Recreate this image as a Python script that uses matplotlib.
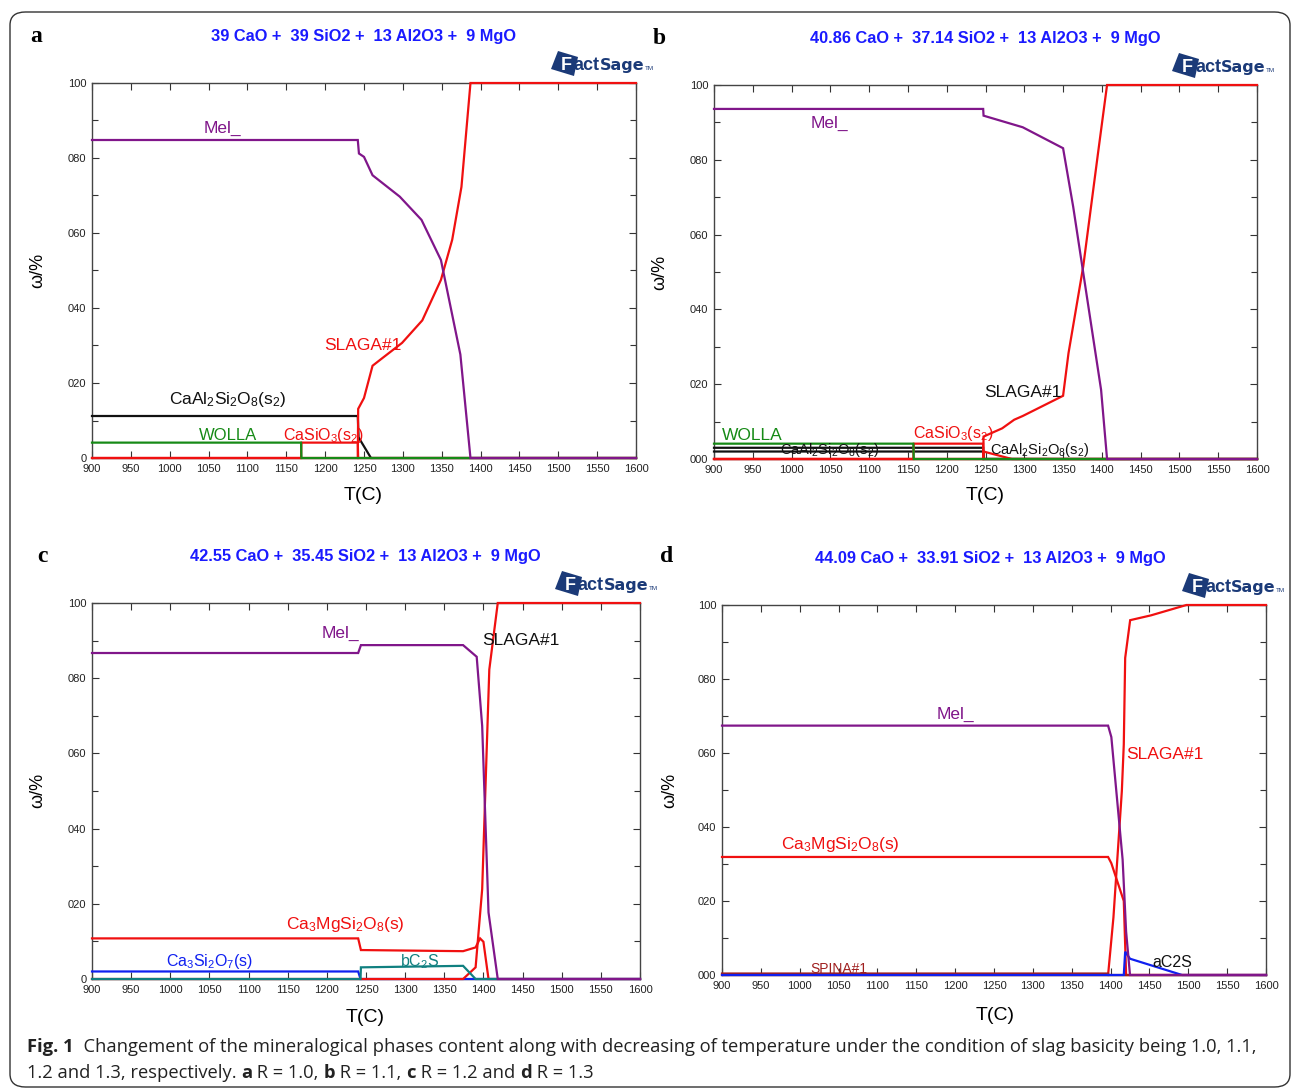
import matplotlib
matplotlib.use("Agg")
import matplotlib.pyplot as plt
from matplotlib.patches import FancyBboxPatch, Polygon
from matplotlib.ticker import FixedLocator, FixedFormatter, MultipleLocator

# ---------------- data ----------------
x_ticks = [900, 950, 1000, 1050, 1100, 1150, 1200, 1250, 1300, 1350, 1400, 1450, 1500, 1550, 1600]
y_ticks = [0, 20, 40, 60, 80, 100]
y_labels_ac = ["0", "020", "040", "060", "080", "100"]
y_labels_bd = ["000", "020", "040", "060", "080", "100"]

titles = ["39 CaO +  39 SiO2 +  13 Al2O3 +  9 MgO",
          "40.86 CaO +  37.14 SiO2 +  13 Al2O3 +  9 MgO",
          "42.55 CaO +  35.45 SiO2 +  13 Al2O3 +  9 MgO",
          "44.09 CaO +  33.91 SiO2 +  13 Al2O3 +  9 MgO"]
letters = ["a", "b", "c", "d"]

# panel a
a_T_anor = [900, 1242, 1243, 1259, 1600]
a_anor = [11.2, 11.2, 5.5, 0, 0]
a_T_slag = [900, 1242, 1242.5, 1250, 1261, 1274, 1299, 1325, 1349, 1363.5, 1375.4, 1387, 1600]
a_slag = [0, 0, 13.1, 16.0, 24.6, 26.7, 30.7, 36.7, 47.5, 58.2, 72.3, 100, 100]
a_T_casio3 = [900, 1169, 1169.5, 1242, 1242.5, 1600]
a_casio3 = [0, 0, 4.1, 4.1, 0, 0]
a_T_woll = [900, 1169, 1169.5, 1600]
a_woll = [4.1, 4.1, 0, 0]
a_T_mel = [900, 1242, 1243.5, 1250, 1261, 1296, 1324, 1349, 1374, 1387, 1600]
a_mel = [84.8, 84.8, 81.2, 80.3, 75.4, 69.7, 63.5, 52.8, 27.6, 0, 0]

# panel b
b_T_anor1 = [900, 1247, 1247.5, 1600]
b_anor1 = [3.0, 3.0, 0, 0]
b_T_anor2 = [900, 1247, 1247.5, 1600]
b_anor2 = [2.0, 2.0, 0, 0]
b_T_anor3 = [900, 1247, 1247.5, 1284, 1600]
b_anor3 = [0, 0, 2.0, 0, 0]
b_T_slag = [900, 1247, 1247.5, 1271.5, 1287, 1298, 1350, 1357, 1376, 1395, 1406.7, 1600]
b_slag = [0, 0, 6.0, 8.2, 10.5, 11.5, 16.9, 28.3, 51.5, 81.7, 100, 100]
b_T_casio3 = [900, 1157, 1157.5, 1247, 1247.5, 1600]
b_casio3 = [0, 0, 4.1, 4.1, 0, 0]
b_T_woll = [900, 1157, 1157.5, 1600]
b_woll = [4.1, 4.1, 0, 0]
b_T_mel = [900, 1247, 1247.5, 1298, 1350, 1363, 1399, 1406.7, 1600]
b_mel = [93.6, 93.6, 91.8, 88.7, 83.1, 67.5, 18.5, 0, 0]

# panel c
c_T_c3s2 = [900, 1240, 1243, 1600]
c_c3s2 = [2.0, 2.0, 0, 0]
c_T_c3ms2 = [900, 1240, 1243.5, 1374, 1390, 1395.7, 1400, 1406.5, 1600]
c_c3ms2 = [10.8, 10.8, 7.7, 7.4, 8.4, 10.8, 9.9, 0, 0]
c_T_slag = [900, 1374, 1390, 1398.4, 1407.5, 1418.3, 1600]
c_slag = [0, 0, 3.1, 23.9, 82.3, 100, 100]
c_T_bc2s = [900, 1243, 1243.5, 1374, 1390, 1600]
c_bc2s = [0, 0, 3.1, 3.5, 0, 0]
c_T_mel = [900, 1240, 1243.5, 1374, 1391.4, 1398.4, 1406.5, 1418.3, 1600]
c_mel = [86.7, 86.7, 88.8, 88.8, 85.7, 67.3, 17.7, 0, 0]

# panel d
d_T_c3ms2 = [900, 1396.8, 1401, 1417, 1420, 1600]
d_c3ms2 = [31.9, 31.9, 30.2, 20.0, 0, 0]
d_T_slag = [900, 1396.8, 1403.7, 1414.5, 1417, 1418.8, 1425.2, 1452, 1497.6, 1600]
d_slag = [0, 0, 15.6, 49.7, 62.3, 85.7, 95.9, 97.2, 100, 100]
d_T_spina = [900, 1396.8, 1397.3, 1600]
d_spina = [0.4, 0.4, 0, 0]
d_T_ac2s = [900, 1417, 1418.8, 1425, 1492, 1600]
d_ac2s = [0, 0, 6.3, 4.4, 0, 0]
d_T_mel = [900, 1396.8, 1401, 1415.5, 1420, 1425, 1600]
d_mel = [67.4, 67.4, 64.3, 31.2, 11.7, 0, 0]

# ---------------- style ----------------
PURPLE = "#80168a"
RED = "#f01010"
GREEN = "#168a16"
BLACK = "#111111"
BLUE = "#1020f0"
TEAL = "#108080"
BROWN = "#a02020"
NAVY = "#1b3a78"
LW = 1.6

W, H = 1292, 1090
plt.rcParams['font.family'] = ['Liberation Sans', 'DejaVu Sans']
plt.rcParams['mathtext.fontset'] = 'custom'
plt.rcParams['mathtext.rm'] = 'Liberation Sans'
plt.rcParams['mathtext.it'] = 'Liberation Sans:italic'
plt.rcParams['mathtext.bf'] = 'Liberation Sans:bold'
fig = plt.figure(figsize=(W / 100, H / 100), dpi=100)
renderer = fig.canvas.get_renderer()


def fx(x):
    return x / W


def fy(y):
    return 1 - y / H


def make_axes(left, right, top, bottom, ylabels):
    ax = fig.add_axes([fx(left), fy(bottom), (right - left) / W, (bottom - top) / H])
    ax.set_xlim(900, 1600)
    ax.set_ylim(0, 100)
    ax.xaxis.set_major_locator(FixedLocator(x_ticks))
    ax.xaxis.set_major_formatter(FixedFormatter([str(t) for t in x_ticks]))
    ax.yaxis.set_major_locator(FixedLocator(y_ticks))
    ax.yaxis.set_major_formatter(FixedFormatter(ylabels))
    ax.yaxis.set_minor_locator(MultipleLocator(10))
    ax.tick_params(which='both', direction='in', top=True, right=True,
                   labelsize=8, colors='#333333', labelcolor='#222222', width=0.8)
    ax.tick_params(which='major', length=5, pad=4)
    ax.tick_params(which='minor', length=4)
    for s in ax.spines.values():
        s.set_color('#444444')
        s.set_linewidth(1.0)
    return ax


def draw(ax, T, v, c):
    ax.plot(T, v, color=c, lw=LW, zorder=3, clip_on=False, solid_joinstyle='miter')


def chain(pieces, x0, y0):
    """Draw text pieces one after another; each piece: (text, kwargs)."""
    x = fx(x0)
    for txt, kw in pieces:
        t = fig.text(x, fy(y0), txt, ha='left', va='baseline', **kw)
        bb = t.get_window_extent(renderer=renderer)
        x += bb.width / W


def logo(x0, y0):
    # tilted navy shape with a white F, then "actSage"
    pts = [(x0 + 7, y0 - 13), (x0 + 27, y0 - 7), (x0 + 23, y0 + 12), (x0, y0 + 5)]
    fig.patches.append(Polygon([(fx(px), fy(py)) for px, py in pts], closed=True,
                               transform=fig.transFigure, facecolor=NAVY, edgecolor='none'))
    fig.text(fx(x0 + 15), fy(y0 + 6), "F", color='white', fontsize=13, fontweight='bold',
             ha='center', va='baseline')
    chain([("act", dict(color=NAVY, fontsize=13, fontweight='bold')),
           ("Sage", dict(color=NAVY, fontsize=11.5, fontweight='bold', family='DejaVu Sans Condensed')),
           ("TM", dict(color=NAVY, fontsize=4.5))], x0 + 23, y0 + 6)


def deco(i, title_xy, letter_xy, logo_xy, xlab_xy, ylab_xy):
    fig.text(fx(title_xy[0]), fy(title_xy[1]), titles[i], color='#1a1aff',
             fontsize=11.8, fontweight='bold', ha='center', va='center')
    fig.text(fx(letter_xy[0]), fy(letter_xy[1]), letters[i], family='Liberation Serif',
             fontsize=17, fontweight='bold', ha='center', va='center')
    logo(*logo_xy)
    fig.text(fx(xlab_xy[0]), fy(xlab_xy[1]), "T(C)", fontsize=14, ha='center', va='center')
    fig.text(fx(ylab_xy[0]), fy(ylab_xy[1]), "ω/%", fontsize=13, ha='center', va='center',
             rotation=90)


# ---------- panel a ----------
ax = make_axes(92, 636, 83, 458, y_labels_ac)
draw(ax, a_T_anor, a_anor, BLACK)
draw(ax, a_T_slag, a_slag, RED)
draw(ax, a_T_casio3, a_casio3, RED)
draw(ax, a_T_woll, a_woll, GREEN)
draw(ax, a_T_mel, a_mel, PURPLE)
ax.text(1068, 88.0, "Mel_", color=PURPLE, fontsize=12.5, ha='center', va='center')
ax.text(1249, 30.1, "SLAGA#1", color=RED, fontsize=12.5, ha='center', va='center')
ax.text(1075, 15.5, r"CaAl$_2$Si$_2$O$_8$(s$_2$)", color=BLACK, fontsize=12.5, ha='center', va='center')
ax.text(1075, 5.9, "WOLLA", color=GREEN, fontsize=12, ha='center', va='center')
ax.text(1197, 5.9, r"CaSiO$_3$(s$_2$)", color=RED, fontsize=11.5, ha='center', va='center')
deco(0, (364, 36), (36, 37), (551, 64), (363, 495), (38, 270))

# ---------- panel b ----------
ax = make_axes(714, 1257, 85, 459, y_labels_bd)
draw(ax, b_T_anor1, b_anor1, BLACK)
draw(ax, b_T_anor2, b_anor2, BLACK)
draw(ax, b_T_anor3, b_anor3, RED)
draw(ax, b_T_slag, b_slag, RED)
draw(ax, b_T_casio3, b_casio3, RED)
draw(ax, b_T_woll, b_woll, GREEN)
draw(ax, b_T_mel, b_mel, PURPLE)
ax.text(1049, 89.8, "Mel_", color=PURPLE, fontsize=12.5, ha='center', va='center')
ax.text(1298, 17.9, "SLAGA#1", color=BLACK, fontsize=12.5, ha='center', va='center')
ax.text(950, 6.2, "WOLLA", color=GREEN, fontsize=12.5, ha='center', va='center')
ax.text(1208, 6.9, r"CaSiO$_3$(s$_2$)", color=RED, fontsize=11.5, ha='center', va='center')
ax.text(1049, 2.3, r"CaAl$_2$Si$_2$O$_8$(s$_2$)", color=BLACK, fontsize=10.5, ha='center', va='center')
ax.text(1320, 2.5, r"CaAl$_2$Si$_2$O$_8$(s$_2$)", color=BLACK, fontsize=10.5, ha='center', va='center')
deco(1, (985, 38), (659, 38), (1172, 66), (985, 496), (660, 272))

# ---------- panel c ----------
ax = make_axes(92, 640, 603, 979, y_labels_ac)
draw(ax, c_T_c3s2, c_c3s2, BLUE)
draw(ax, c_T_slag, c_slag, RED)
draw(ax, c_T_c3ms2, c_c3ms2, RED)
draw(ax, c_T_bc2s, c_bc2s, TEAL)
draw(ax, c_T_mel, c_mel, PURPLE)
ax.text(1217, 92.0, "Mel_", color=PURPLE, fontsize=12.5, ha='center', va='center')
ax.text(1448, 89.9, "SLAGA#1", color=BLACK, fontsize=12.5, ha='center', va='center')
ax.text(1223, 14.6, r"Ca$_3$MgSi$_2$O$_8$(s)", color=RED, fontsize=12.5, ha='center', va='center')
ax.text(1050, 4.7, r"Ca$_3$Si$_2$O$_7$(s)", color=BLUE, fontsize=11.5, ha='center', va='center')
ax.text(1319, 4.7, r"bC$_2$S", color=TEAL, fontsize=11.5, ha='center', va='center')
deco(2, (365, 557), (42, 557), (555, 584), (365, 1017), (38, 790))

# ---------- panel d ----------
ax = make_axes(722, 1266, 605, 975, y_labels_bd)
draw(ax, d_T_slag, d_slag, RED)
draw(ax, d_T_c3ms2, d_c3ms2, RED)
draw(ax, d_T_spina, d_spina, BROWN)
draw(ax, d_T_ac2s, d_ac2s, BLUE)
draw(ax, d_T_mel, d_mel, PURPLE)
ax.text(1200, 70.5, "Mel_", color=PURPLE, fontsize=12.5, ha='center', va='center')
ax.text(1470, 59.7, "SLAGA#1", color=RED, fontsize=12.5, ha='center', va='center')
ax.text(1052, 35.3, r"Ca$_3$MgSi$_2$O$_8$(s)", color=RED, fontsize=12.5, ha='center', va='center')
ax.text(1479, 3.4, "aC2S", color=BLACK, fontsize=11.5, ha='center', va='center')
ax.text(1050, 1.5, "SPINA#1", color=BROWN, fontsize=10, ha='center', va='center')
deco(3, (990, 558), (667, 557), (1182, 586), (995, 1015), (670, 790))

# ---------- border ----------
box = FancyBboxPatch((fx(10), fy(1087)), fx(1280), (1075) / H,
                     boxstyle="round,pad=0,rounding_size=0.012",
                     transform=fig.transFigure, fill=False, edgecolor='#333333', lw=1.0)
fig.patches.append(box)

# ---------- caption ----------
CAP = dict(fontsize=13.2, family=['Open Sans', 'DejaVu Sans'], color='#222222')
CAPB = dict(CAP, fontweight='bold')
chain([("Fig. 1", CAPB),
       ("  Changement of the mineralogical phases content along with decreasing of temperature "
        "under the condition of slag basicity being 1.0, 1.1,", CAP)], 27, 1052)
chain([("1.2 and 1.3, respectively. ", CAP), ("a", CAPB), (" R = 1.0, ", CAP),
       ("b", CAPB), (" R = 1.1, ", CAP), ("c", CAPB), (" R = 1.2 and ", CAP),
       ("d", CAPB), (" R = 1.3", CAP)], 27, 1078)

fig.savefig("out.png", dpi=100)
